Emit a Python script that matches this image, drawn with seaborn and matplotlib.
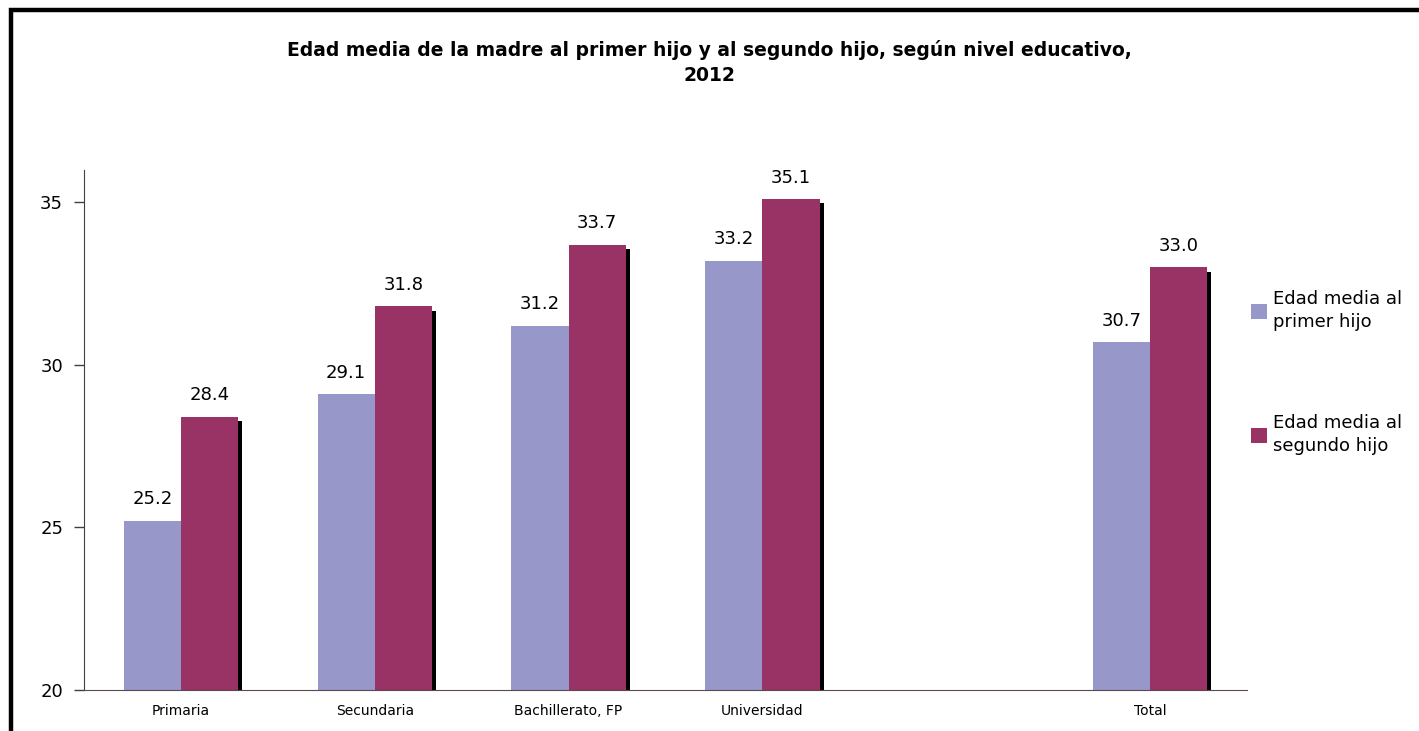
import numpy as np
import pandas as pd
import matplotlib
matplotlib.use('Agg')
import matplotlib.pyplot as plt
import matplotlib.patheffects as pe
from matplotlib.patches import Rectangle
import seaborn as sns

# Data
categories = ['Primaria', 'Secundaria', 'Bachillerato, FP', 'Universidad', 'Total']
primer_hijo = [25.2, 29.1, 31.2, 33.2, 30.7]
segundo_hijo = [28.4, 31.8, 33.7, 35.1, 33.0]
series_names = ['Edad media al\nprimer hijo', 'Edad media al\nsegundo hijo']
slot_order = ['Primaria', 'Secundaria', 'Bachillerato, FP', 'Universidad', ' ', 'Total']
colors = ['#9797c9', '#993366']

df = pd.DataFrame({
    'categoria': categories * 2,
    'serie': [series_names[0]] * len(categories) + [series_names[1]] * len(categories),
    'edad': primer_hijo + segundo_hijo,
})

sns.set_style('white')
plt.rcParams['font.family'] = ['DejaVu Sans']
plt.rcParams['text.color'] = 'black'
plt.rcParams['xtick.color'] = 'black'
plt.rcParams['ytick.color'] = 'black'

fig = plt.figure(figsize=(14.19, 7.31), dpi=100)
ax = fig.add_axes([0.0592, 0.0561, 0.8196, 0.7114])

sns.barplot(data=df, x='categoria', y='edad', hue='serie', order=slot_order,
            hue_order=series_names, palette=colors, width=0.59, saturation=1,
            linewidth=0, ax=ax)

ax.set_ylim(20, 36)
ax.set_yticks([20, 25, 30, 35])
ax.set_xlim(-0.5, len(slot_order) - 0.5)
ax.set_xlabel('')
ax.set_ylabel('')
ax.tick_params(axis='y', left=True, labelsize=13, length=7, width=1, color='#404040',
               labelcolor='black', direction='out', pad=8)
ax.tick_params(axis='x', bottom=False, labelsize=10, length=0, pad=10, labelcolor='black')
for side in ['top', 'right']:
    ax.spines[side].set_visible(False)
ax.spines['left'].set_color('#404040')
ax.spines['bottom'].set_color('#5a4a50')

# value labels and shadow on the second series
for i, cont in enumerate(ax.containers):
    vals = primer_hijo if i == 0 else segundo_hijo
    ax.bar_label(cont, labels=[f'{v:.1f}' for v in vals], padding=9, fontsize=13, color='black')
    if i == 1:
        for bar in cont:
            bar.set_path_effects([pe.SimplePatchShadow(offset=(3, -3), shadow_rgbFace='black', alpha=1),
                                  pe.Normal()])

leg = ax.legend(loc='center left', bbox_to_anchor=(0.997, 0.61), frameon=False, fontsize=13,
                handlelength=0.9, handleheight=0.9, handletextpad=0.35, labelspacing=4.6,
                borderaxespad=0.0)
for t in leg.get_texts():
    t.set_linespacing(1.35)
    t.set_color('black')

fig.suptitle('Edad media de la madre al primer hijo y al segundo hijo, según nivel educativo,\n2012',
             x=0.5, y=0.945, fontsize=13.5, fontweight='bold', linespacing=1.4, color='black')

fig.patches.append(Rectangle((0.0075, -0.1), 1.1, 1.0865, transform=fig.transFigure,
                             fill=False, edgecolor='black', linewidth=3.2))

fig.savefig('out.png', dpi=100)
